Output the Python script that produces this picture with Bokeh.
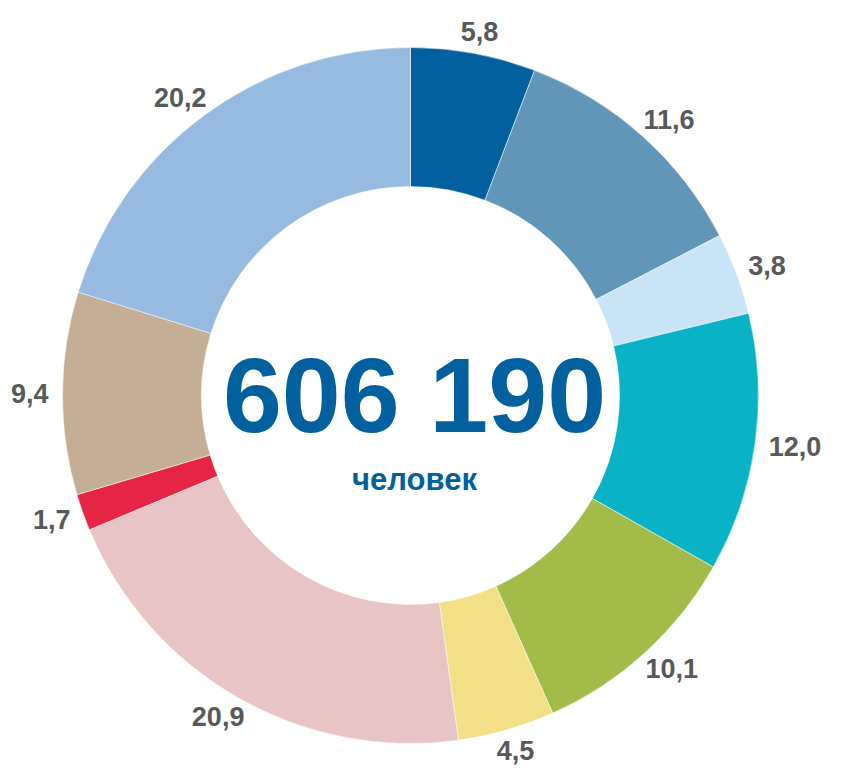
import math
from bokeh.plotting import figure
from bokeh.models import Range1d, ColumnDataSource
from bokeh.core.properties import value
from bokeh.embed import file_html
from bokeh.resources import INLINE

# --- data -------------------------------------------------------------
values = [5.8, 11.6, 3.8, 12.0, 10.1, 4.5, 20.9, 1.7, 9.4, 20.2]
labels = ["5,8", "11,6", "3,8", "12,0", "10,1", "4,5", "20,9", "1,7", "9,4", "20,2"]
colors = ["#02609F", "#6196B8", "#C9E3F7", "#09B3C5", "#A3BB48",
          "#F3E086", "#E8C4C4", "#E52446", "#C5AE96", "#97BBE0"]
total_text = "606 190"
unit_text = "человек"

# --- layout -----------------------------------------------------------
W, H = 825, 765
cx, cy = 410, H - 395
R_out, R_in = 348, 209
label_font_px = 27

p = figure(width=W, height=H, output_backend="svg", toolbar_location=None,
           x_range=Range1d(0, W), y_range=Range1d(0, H), min_border=0)
p.axis.visible = False
p.grid.visible = False
p.outline_line_color = None
p.background_fill_color = "white"
p.border_fill_color = "white"

total = sum(values)
starts, ends, lx, ly = [], [], [], []
cum = 0.0
for v, lab in zip(values, labels):
    a0 = math.pi / 2 - 2 * math.pi * cum / total
    a1 = math.pi / 2 - 2 * math.pi * (cum + v) / total
    starts.append(a0)
    ends.append(a1)
    mid = (a0 + a1) / 2
    w = sum(0.278 if ch == "," else 0.556 for ch in lab) * label_font_px
    h = 0.716 * label_font_px
    ux, uy = math.cos(mid), math.sin(mid)
    lx.append(cx + ux * (R_out + 14 + w / 2))
    ly.append(cy + uy * (R_out + 12 + h / 2))
    cum += v

src = ColumnDataSource(dict(start=starts, end=ends, color=colors,
                            lx=lx, ly=ly, label=labels))

p.annular_wedge(x=cx, y=cy, inner_radius=R_in, outer_radius=R_out,
                start_angle="start", end_angle="end", direction="clock",
                fill_color="color", line_color="white", line_width=0.5,
                source=src)

p.text(x="lx", y="ly", text="label", source=src,
       text_font=value("Liberation Sans"), text_font_style="bold",
       text_font_size=f"{label_font_px}px", text_color="#595959",
       text_align="center", text_baseline="middle")

p.text(x=[cx + 4], y=[cy + 1], text=[total_text],
       text_font=value("Liberation Sans"), text_font_style="bold",
       text_font_size="106px", text_color="#02609F",
       text_align="center", text_baseline="middle")

p.text(x=[cx + 4], y=[cy - 84], text=[unit_text],
       text_font=value("Liberation Sans"), text_font_style="bold",
       text_font_size="31px", text_color="#02609F",
       text_align="center", text_baseline="middle")

open("out.html", "w").write(file_html(p, INLINE))
